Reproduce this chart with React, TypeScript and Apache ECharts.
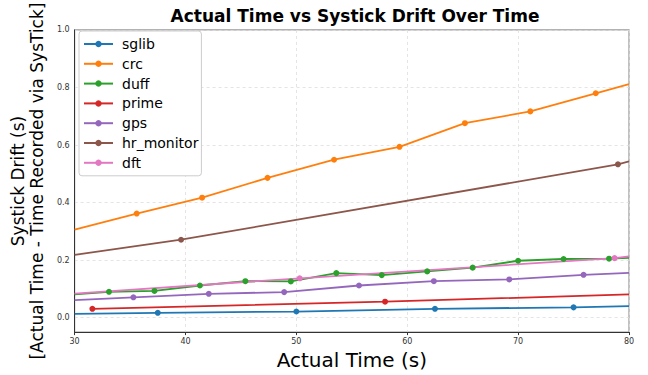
import React, { useEffect, useRef } from "react";
import * as echarts from "echarts";

const seriesNames = ["sglib", "crc", "duff", "prime", "gps", "hr_monitor", "dft"];
const colors = ["#1f77b4", "#ff7f0e", "#2ca02c", "#d62728", "#9467bd", "#8c564b", "#e377c2"];

const sglibX = [30, 37.5, 50, 62.5, 75, 80];
const sglibY = [0.013, 0.017, 0.0215, 0.031, 0.036, 0.04];
const sglibM = [0, 1, 1, 1, 1, 0];

const crcX = [30, 35.6, 41.5, 47.4, 53.4, 59.3, 65.2, 71.1, 77.0, 80];
const crcY = [0.306, 0.362, 0.417, 0.486, 0.549, 0.594, 0.676, 0.717, 0.78, 0.812];
const crcM = [0, 1, 1, 1, 1, 1, 1, 1, 1, 0];

const duffX = [30, 33.1, 37.2, 41.3, 45.4, 49.5, 53.6, 57.7, 61.8, 65.9, 70.0, 74.1, 78.2, 80];
const duffY = [0.081, 0.09, 0.093, 0.112, 0.127, 0.126, 0.155, 0.148, 0.161, 0.174, 0.198, 0.204, 0.205, 0.208];
const duffM = [0, 1, 1, 1, 1, 1, 1, 1, 1, 1, 1, 1, 1, 0];

const primeX = [31.6, 58.0, 80];
const primeY = [0.031, 0.0556, 0.081];
const primeM = [1, 1, 0];

const gpsX = [30, 35.3, 42.1, 48.9, 55.65, 62.4, 69.2, 75.9, 80];
const gpsY = [0.061, 0.071, 0.083, 0.089, 0.112, 0.127, 0.133, 0.149, 0.156];
const gpsM = [0, 1, 1, 1, 1, 1, 1, 1, 0];

const hrX = [30, 39.6, 79.0, 80];
const hrY = [0.218, 0.271, 0.533, 0.543];
const hrM = [0, 1, 1, 0];

const dftX = [30, 50.3, 78.7, 80];
const dftY = [0.084, 0.137, 0.207, 0.213];
const dftM = [0, 1, 1, 0];

const allX = [sglibX, crcX, duffX, primeX, gpsX, hrX, dftX];
const allY = [sglibY, crcY, duffY, primeY, gpsY, hrY, dftY];
const allM = [sglibM, crcM, duffM, primeM, gpsM, hrM, dftM];

const FONT = "DejaVu Sans";

export default function App() {
  const ref = useRef<HTMLDivElement>(null);
  useEffect(() => {
    if (!ref.current) return;
    const chart = echarts.init(ref.current, null, { renderer: "svg" });
    const series = seriesNames.map((name, i) => ({
      name,
      type: "line",
      color: colors[i],
      symbol: "circle",
      symbolSize: 6,
      showSymbol: true,
      showAllSymbol: true,
      lineStyle: { width: 1.8, color: colors[i] },
      itemStyle: { color: colors[i] },
      emphasis: { disabled: true },
      silent: true,
      data: allX[i].map((x, j) =>
        allM[i][j] ? { value: [x, allY[i][j]] } : { value: [x, allY[i][j]], symbol: "none" }
      ),
    }));
    chart.setOption({
      animation: false,
      backgroundColor: "#fff",
      title: {
        text: "Actual Time vs Systick Drift Over Time",
        left: 350,
        textAlign: "center",
        top: 2,
        textStyle: { fontFamily: FONT, fontWeight: "bold", fontSize: 17, color: "#000" },
      },
      legend: {
        orient: "vertical",
        left: 79,
        top: 31,
        backgroundColor: "#fff",
        borderColor: "#ccc",
        borderWidth: 1,
        borderRadius: 3,
        padding: [6, 3, 6, 4],
        itemWidth: 29,
        itemHeight: 8,
        itemGap: 5.8,
        textStyle: { fontFamily: FONT, fontSize: 14, color: "#000", lineHeight: 14, padding: [0, 0, 0, 4] },
        data: seriesNames,
      },
      grid: {
        left: 71,
        right: 19,
        top: 25,
        bottom: 42,
        show: true,
        borderColor: "#999",
        borderWidth: 1.2,
      },
      xAxis: {
        type: "value",
        min: 30,
        max: 80,
        interval: 10,
        name: "Actual Time (s)",
        nameLocation: "middle",
        nameGap: 15,
        nameTextStyle: { fontFamily: FONT, fontSize: 20, color: "#000" },
        axisLine: { show: true, onZero: false, lineStyle: { color: "#333", width: 1 } },
        axisTick: { show: true, length: 3, lineStyle: { color: "#333" } },
        axisLabel: { fontFamily: FONT, fontSize: 8, color: "#333", margin: 5 },
        splitLine: { show: true, lineStyle: { type: [3, 3], color: "#ddd", width: 0.8 } },
      },
      yAxis: {
        type: "value",
        min: -0.05,
        max: 1.0,
        interval: 0.05,
        name: "Systick Drift (s)\n[Actual Time - Time Recorded via SysTick]",
        nameLocation: "middle",
        nameRotate: 90,
        nameGap: 16,
        nameTextStyle: { fontFamily: FONT, fontSize: 17, color: "#000", lineHeight: 19 },
        axisLine: { show: true, onZero: false, lineStyle: { color: "#333", width: 1 } },
        axisTick: { show: false },
        axisLabel: {
          fontFamily: FONT,
          fontSize: 8,
          color: "#333",
          margin: 5,
          formatter: (v: number) => {
            const r = v / 0.2;
            return Math.abs(r - Math.round(r)) < 1e-6 && v > -0.01 ? v.toFixed(1) : "";
          },
        },
        splitLine: {
          show: true,
          lineStyle: { type: [3, 3], color: ["transparent", "#ddd", "transparent", "transparent"], width: 0.8 },
        },
      },
      series,
    });
    return () => chart.dispose();
  }, []);
  return (
    <div
      ref={ref}
      style={{ position: "fixed", left: 0, top: 0, width: 648, height: 375 }}
    />
  );
}
